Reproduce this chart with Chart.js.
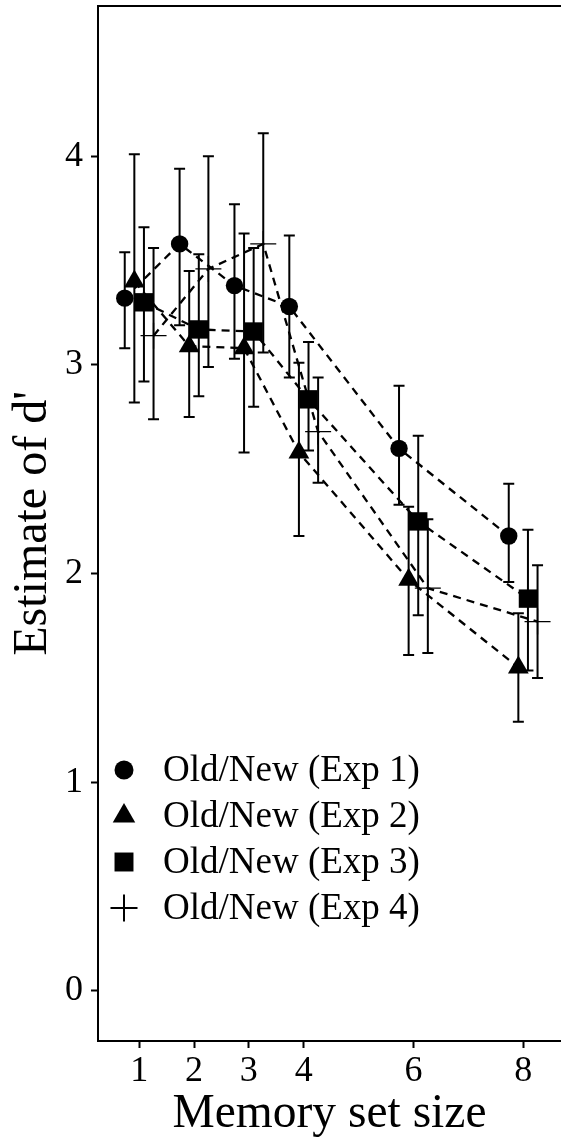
<!DOCTYPE html>
<html>
<head>
<meta charset="utf-8">
<script src="https://cdn.jsdelivr.net/npm/chart.js@4/dist/chart.umd.min.js"></script>
<style>
  html, body { margin: 0; padding: 0; background: #fff; overflow: hidden; }
  #wrap { width: 561px; height: 1137px; position: relative; }
  canvas { display: block; }
</style>
</head>
<body>
<div id="wrap"><canvas id="chart"></canvas></div>
<script>
// memory set sizes on the x axis
const setSizes = [1, 2, 3, 4, 6, 8];
const yTicks = [0, 1, 2, 3, 4];

const seriesNames = ["Old/New (Exp 1)", "Old/New (Exp 2)", "Old/New (Exp 3)", "Old/New (Exp 4)"];

// d' estimates and error bar limits
const exp1 = [3.32, 3.58, 3.38, 3.28, 2.60, 2.18];
const exp1Lo = [3.08, 3.19, 3.03, 2.94, 2.33, 1.96];
const exp1Hi = [3.54, 3.94, 3.77, 3.62, 2.90, 2.43];

const exp2 = [3.40, 3.09, 3.08, 2.58, 1.97, 1.55];
const exp2Lo = [2.82, 2.75, 2.58, 2.18, 1.61, 1.29];
const exp2Hi = [4.01, 3.45, 3.63, 3.01, 2.32, 1.81];

const exp3 = [3.30, 3.17, 3.16, 2.835, 2.25, 1.88];
const exp3Lo = [2.92, 2.85, 2.80, 2.59, 1.80, 1.535];
const exp3Hi = [3.66, 3.53, 3.56, 3.11, 2.66, 2.21];

const exp4 = [3.14, 3.46, 3.58, 2.68, 1.93, 1.77];
const exp4Lo = [2.74, 2.99, 3.06, 2.435, 1.62, 1.50];
const exp4Hi = [3.56, 4.00, 4.11, 2.94, 2.26, 2.04];

// horizontal dodge for each experiment (x units)
const dodge = [-0.2625, -0.0875, 0.0875, 0.2625];

const values = [exp1, exp2, exp3, exp4];
const lows = [exp1Lo, exp2Lo, exp3Lo, exp4Lo];
const highs = [exp1Hi, exp2Hi, exp3Hi, exp4Hi];

const markerStyle = ["circle", "triangle", "rect", "cross"];
const markerRadius = [8.7, 12, 13, 13];

const FONT = "'Liberation Serif', 'Times New Roman', serif";

const datasets = values.map((vals, i) => ({
  label: seriesNames[i],
  data: vals.map((v, j) => ({ x: setSizes[j] + dodge[i], y: v })),
  showLine: true,
  borderColor: "#000",
  borderWidth: 2.3,
  borderDash: [8, 6],
  fill: false,
  pointStyle: markerStyle[i],
  pointRadius: markerRadius[i],
  pointHoverRadius: markerRadius[i],
  pointBackgroundColor: "#000",
  pointBorderColor: "#000",
  pointBorderWidth: i === 3 ? 1.3 : 0,
}));

const errorBars = {
  id: "errorBars",
  beforeDatasetsDraw(chart) {
    const { ctx, scales: { x, y } } = chart;
    ctx.save();
    ctx.strokeStyle = "#000";
    ctx.lineWidth = 2;
    lows.forEach((lo, i) => {
      lo.forEach((l, j) => {
        const px = x.getPixelForValue(setSizes[j] + dodge[i]);
        const y1 = y.getPixelForValue(l);
        const y2 = y.getPixelForValue(highs[i][j]);
        ctx.beginPath();
        ctx.moveTo(px, y1); ctx.lineTo(px, y2);
        ctx.moveTo(px - 5.5, y1); ctx.lineTo(px + 5.5, y1);
        ctx.moveTo(px - 5.5, y2); ctx.lineTo(px + 5.5, y2);
        ctx.stroke();
      });
    });
    ctx.restore();
  }
};

const frameAndLegend = {
  id: "frameAndLegend",
  afterDraw(chart) {
    const { ctx, chartArea } = chart;
    ctx.save();
    // top border of the panel
    ctx.strokeStyle = "#000";
    ctx.lineWidth = 2;
    ctx.beginPath();
    ctx.moveTo(chartArea.left - 1, chartArea.top);
    ctx.lineTo(chartArea.right, chartArea.top);
    ctx.stroke();

    // legend inside the panel
    const lx = 124, ly0 = 770, step = 46;
    ctx.font = "37px " + FONT;
    ctx.textBaseline = "middle";
    ctx.fillStyle = "#000";
    seriesNames.forEach((name, i) => {
      const cy = ly0 + i * step;
      Chart.helpers.drawPoint(ctx, {
        pointStyle: markerStyle[i],
        radius: i === 0 ? 9.5 : i === 1 ? 13 : i === 2 ? 13.4 : 13.5,
        borderWidth: i === 3 ? 1.3 : 0
      }, lx, cy);
      ctx.fillStyle = "#000";
      ctx.fillText(name, 163, cy + 1);
    });
    ctx.restore();
  }
};

new Chart(document.getElementById("chart"), {
  type: "scatter",
  data: { datasets },
  plugins: [errorBars, frameAndLegend],
  options: {
    responsive: true,
    maintainAspectRatio: false,
    devicePixelRatio: 1,
    animation: false,
    layout: { autoPadding: false, padding: { top: 6, right: 0, left: 0, bottom: 0 } },
    plugins: { legend: { display: false }, tooltip: { enabled: false } },
    scales: {
      x: {
        type: "linear",
        min: 0.25,
        max: 8.69,
        afterFit(s) { s.height = 96; s.paddingLeft = 0; s.paddingRight = 0; },
        afterBuildTicks(s) { s.ticks = setSizes.map(v => ({ value: v })); },
        grid: { display: true, drawOnChartArea: false, drawTicks: true, tickLength: 7, tickWidth: 2, tickColor: "#000" },
        border: { display: true, color: "#000", width: 2 },
        ticks: { color: "#000", font: { family: FONT, size: 36 }, padding: 2, maxRotation: 0 },
        title: { display: true, text: "Memory set size", color: "#000", font: { family: FONT, size: 47.5, lineHeight: 0.6 }, padding: { top: 0, bottom: 8 } }
      },
      y: {
        min: -0.24,
        max: 4.72,
        afterFit(s) { s.width = 98; s.paddingTop = 0; s.paddingBottom = 0; },
        afterBuildTicks(s) { s.ticks = yTicks.map(v => ({ value: v })); },
        grid: { display: true, drawOnChartArea: false, drawTicks: true, tickLength: 7, tickWidth: 2, tickColor: "#000" },
        border: { display: true, color: "#000", width: 2 },
        ticks: { color: "#000", font: { family: FONT, size: 36 }, padding: 8 },
        title: { display: true, text: "Estimate of d'", color: "#000", font: { family: FONT, size: 48, lineHeight: 1 }, padding: { top: 9, bottom: 0 } }
      }
    }
  }
});
</script>
</body>
</html>
